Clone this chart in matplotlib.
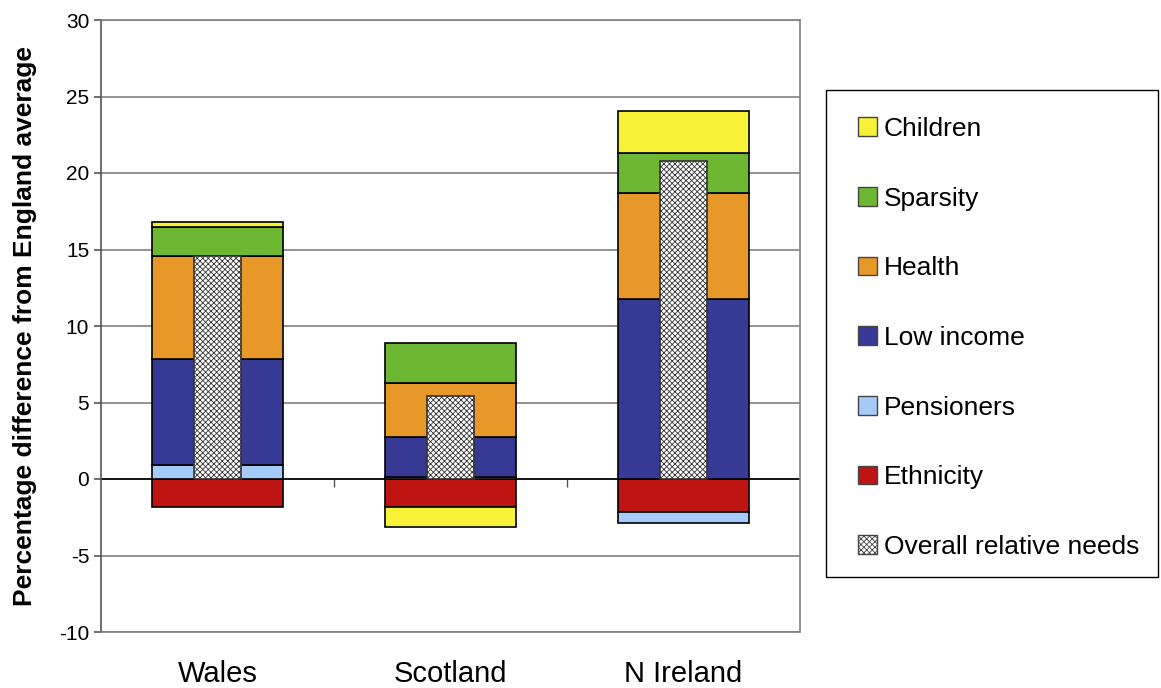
import numpy as np
import matplotlib
matplotlib.use('Agg')
import matplotlib.pyplot as plt
from matplotlib.patches import Patch, Rectangle

plt.rcParams['font.family'] = ['Liberation Sans', 'DejaVu Sans']
plt.rcParams['hatch.linewidth'] = 0.6
plt.rcParams['axes.unicode_minus'] = False

regions = ['Wales', 'Scotland', 'N Ireland']

# components of the relative needs, stacked from the zero line outwards
components = ['Ethnicity', 'Pensioners', 'Low income', 'Health', 'Sparsity', 'Children']
values = {
    'Ethnicity':  [-1.85, -1.85, -2.15],
    'Pensioners': [0.9, 0.1, -0.75],
    'Low income': [6.95, 2.65, 11.75],
    'Health':     [6.75, 3.55, 6.95],
    'Sparsity':   [1.9, 2.6, 2.6],
    'Children':   [0.3, -1.3, 2.75],
}
overall = [14.6, 5.4, 20.8]

colours = {
    'Children':   '#F8F236',
    'Sparsity':   '#6DB733',
    'Health':     '#E89828',
    'Low income': '#373A94',
    'Pensioners': '#A6CBF8',
    'Ethnicity':  '#BE1412',
}

fig = plt.figure(figsize=(11.61, 6.88), dpi=100)
ax = fig.add_axes([101 / 1161, 1 - 632 / 688, 699 / 1161, 612 / 688])

x = np.arange(len(regions))
pos_base = np.zeros(len(regions))
neg_base = np.zeros(len(regions))
for comp in components:
    v = np.array(values[comp])
    bottom = np.where(v >= 0, pos_base, neg_base)
    ax.bar(x, v, width=0.56, bottom=bottom, color=colours[comp],
           edgecolor='black', linewidth=1.2, zorder=3)
    pos_base += np.where(v >= 0, v, 0)
    neg_base += np.where(v < 0, v, 0)

ax.bar(x, overall, width=0.2, color='white', edgecolor='#333333',
       hatch='xxxxxx', linewidth=1.2, zorder=4)

ax.set_xlim(-0.5, 2.5)
ax.set_ylim(-10, 30)
ax.set_yticks(np.arange(-10, 31, 5))
ax.yaxis.grid(True, color='#808080', linewidth=1.2, zorder=0)
ax.axhline(0, color='black', linewidth=1.2, zorder=2)
ax.set_xticks(x)
ax.set_xticklabels(regions, fontsize=21)
ax.tick_params(axis='x', length=0, pad=20)
ax.tick_params(axis='y', labelsize=15, length=5, width=1.2, color='#555555')
for s in ax.spines.values():
    s.set_color('#808080')
    s.set_linewidth(1.2)
ax.spines['left'].set_color('#555555')
ax.set_ylabel('Percentage difference from England average',
              fontsize=19, fontweight='bold', labelpad=16)

# category separators on the zero line
sec = ax.secondary_xaxis(0.25)
sec.set_xticks([0.5, 1.5])
sec.set_xticklabels(['', ''])
sec.tick_params(length=6, width=1.0, color='#555555')
sec.spines['bottom'].set_visible(False)

# legend box drawn separately so the entries can sit with a wider left margin
fig.patches.append(Rectangle((826 / 1161, 1 - 577 / 688), 332 / 1161, 487 / 688,
                             transform=fig.transFigure, facecolor='white',
                             edgecolor='black', linewidth=1.0))

handles = [Patch(facecolor=colours[c], edgecolor='#444444', label=c)
           for c in components[::-1]]
handles.append(Patch(facecolor='white', edgecolor='#444444', hatch='xxxxxx',
                     label='Overall relative needs'))
leg = fig.legend(handles=handles, loc='upper left',
                 bbox_to_anchor=(858 / 1161, 1 - 117 / 688),
                 fontsize=19, frameon=False, labelspacing=1.73,
                 handlelength=0.72, handleheight=0.72, handletextpad=0.25,
                 borderpad=0, borderaxespad=0)

fig.savefig('out.png', dpi=100)
